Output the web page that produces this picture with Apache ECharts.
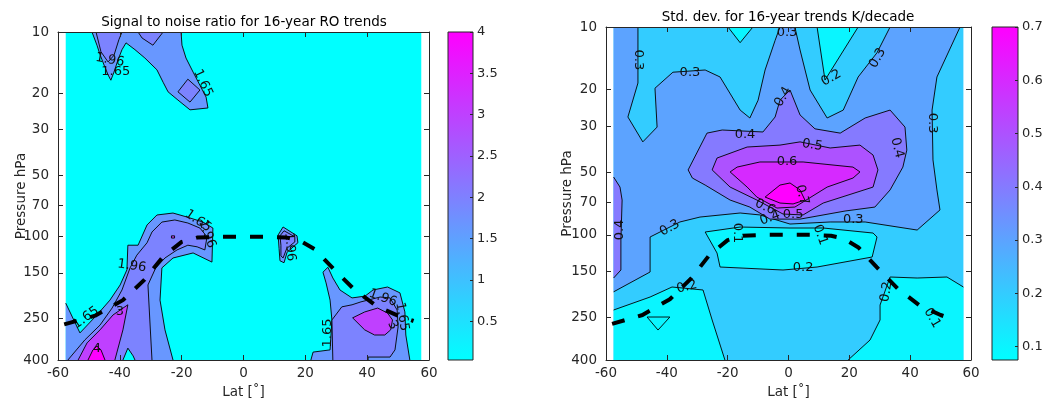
<!DOCTYPE html>
<html>
<head>
<meta charset="utf-8">
<script src="https://cdn.jsdelivr.net/npm/echarts@6/dist/echarts.min.js"></script>
<style>html,body{margin:0;background:#fff}#chart{width:1043px;height:401px}</style>
</head>
<body>
<div id="chart"></div>
<script>
// ---------- axes ----------
const P_TICKS = [10, 20, 30, 50, 70, 100, 150, 250, 400];
const LAT_TICKS = [-60, -40, -20, 0, 20, 40, 60];
const SNR_BAR_TICKS = [0.5, 1, 1.5, 2, 2.5, 3, 3.5, 4];
const SD_BAR_TICKS = [0.1, 0.2, 0.3, 0.4, 0.5, 0.6, 0.7];
const SNR_RANGE = [0.03, 4];
const SD_RANGE = [0.075, 0.7];

// data field covers the 5-degree bins centred at -57.5 ... 57.5
const FIELD = [[-57.5, 10], [57.5, 10], [57.5, 400], [-57.5, 400]];

// ---------- thermal tropopause (lat, hPa) ----------
const TROPO_LAT = [-58, -48, -39, -32, -26, -20, -15, -7, 0, 7, 14, 18, 23, 29, 36, 43, 50, 55];
const TROPO_P = [268, 243, 204, 162, 125, 106, 101, 100, 100, 100, 101, 104, 115, 143, 182, 218, 243, 258];

// ---------- signal to noise ratio: contour regions (lat, hPa) ----------
const SNR_UPPER_165 = [[-49.0,10],[-47.4,11.6],[-46.4,12.9],[-45.1,14.5],[-43.8,16.2],[-42.9,17.2],[-41.9,15.7],[-40.6,13.7],[-39.3,12.2],[-38.0,11.3],[-35.1,12.2],[-31.9,13.4],[-28.0,15.3],[-26.0,17.6],[-24.4,19.6],[-21.2,21.5],[-17.3,24.0],[-11.5,23.5],[-12.1,20.8],[-14.1,18.2],[-16.3,15.7],[-18.6,13.4],[-19.9,11.6],[-20.2,10]];
const SNR_UPPER_196_A = [[-47.7,10],[-46.1,12.5],[-43.8,14.0],[-41.9,13.0],[-40.3,10.9],[-39.3,10]];
const SNR_UPPER_196_B = [[-34.1,10],[-32.8,10.7],[-29.3,11.6],[-26.0,10]];
const SNR_UPPER_196_C = [[-21.2,19.6],[-18.0,17.0],[-14.1,19.2],[-17.3,22.0]];
const SNR_LOWER_165 = [[-57.5,211],[-52.9,295],[-47.4,241],[-43.2,204],[-39.9,172],[-37.7,145],[-37.4,110],[-34.1,110],[-31.2,87.6],[-28.0,78.3],[-22.8,76.6],[-18.3,80.1],[-13.1,84.8],[-9.9,90.7],[-10.2,133],[-16.3,120],[-22.8,127],[-26.4,142],[-27.0,204],[-25.4,285],[-22.8,400],[-57.5,400]];
const SNR_LOWER_196 = [[-56.8,400],[-51.3,319],[-46.4,270],[-42.5,223],[-39.3,182],[-36.7,142],[-34.5,123],[-31.2,107],[-29.6,94.8],[-26.4,84.8],[-22.2,82.8],[-18.0,85.7],[-14.1,90.7],[-11.8,100],[-12.5,116],[-15.0,112],[-18.0,110],[-21.5,116],[-25.4,127],[-28.4,142],[-30.9,172],[-30.3,255],[-29.6,400]];
const SNR_LOWER_3 = [[-53.5,400],[-50.6,330],[-46.4,285],[-42.2,241],[-39.9,228],[-37.4,215],[-39.0,285],[-41.6,400]];
const SNR_LOWER_4 = [[-50.3,400],[-48.7,357],[-47.4,342],[-46.1,357],[-44.8,400]];
const SNR_LOWER_GAP = [[-39.0,400],[-37.4,350],[-35.7,382],[-35.1,400]];
const SNR_DOT_3 = [[-23.3,99],[-22.3,99],[-22.3,101.5],[-23.3,101.5]];
const SNR_MID_165 = [[11.2,98],[12.8,89.6],[17.3,99],[17.6,107],[14.1,119],[13.1,134],[11.8,131],[11.5,114]];
const SNR_MID_196 = [[11.8,99],[13.1,93.5],[16.6,100],[16.6,106],[14.0,114],[12.8,127],[12.1,124],[12.1,110]];
const SNR_RIGHT_165 = [[21.8,400],[22.5,366],[28.0,357],[28.6,255],[28.0,204],[26.7,168],[25.7,149],[27.3,141],[28.9,159],[31.2,182],[35.1,199],[39.3,195],[41.9,182],[46.6,176],[50.6,188],[52.2,233],[52.5,302],[53.8,400]];
const SNR_RIGHT_196 = [[28.9,400],[28.6,255],[31.8,220],[35.1,215],[38.0,208],[40.2,204],[44.2,197],[47.4,199],[49.7,228],[50.0,276],[49.0,357],[47.4,387],[40.3,387],[40.3,400]];
const SNR_RIGHT_3 = [[35.3,249],[39.2,233],[43.4,223],[46.6,236],[48.2,255],[47.6,285],[45.7,302],[42.4,302],[39.2,285]];

// contour labels: text, lat, hPa, angle (deg, anticlockwise)
const SNR_LABELS = [
  ['1.96',-43.2,13.7,-10], ['1.65',-41.3,15.6,0], ['1.65',-13.1,17.8,-65],
  ['1.65',-14.7,83.8,-35], ['1.96',-11.8,97,-70], ['1.96',-36.1,139,-8],
  ['1.65',-51,249,35], ['3',-40,233,0], ['4',-47.4,350,0],
  ['1.96',15,112,-85], ['1.65',27.3,295,90], ['1.96',45.1,199,-20],
  ['1.65',51.3,246,-80], ['3',48.3,270,-60]
];

// ---------- standard deviation: contour regions (lat, hPa) ----------
const SD_03_BAND = [[-57.5,10],[56.4,10],[48.8,17.4],[47.2,25.1],[47.5,43.6],[48.8,60.8],[49.8,75.9],[42.3,94.8],[25.2,86.7],[13.7,86.7],[0.5,88.7],[-9.4,80.2],[-15.9,78.5],[-29.1,82.1],[-35.7,86.7],[-45.5,102.4],[-45.5,150.9],[-57.5,188]];
const SD_02_TOPLEFT = [[-49.5,10],[-49.5,18.6],[-52.8,27.1],[-47.9,35.7],[-43.2,30.3],[-43.9,19.7],[-38.0,16.5],[-27.4,16.1],[-22.5,17.4],[-15.9,25.1],[-12.7,27.4],[-10.0,22.5],[-7.7,16.1],[-4.4,11.6],[-2.8,10]];
const SD_02_TOPRIGHT = [[2.1,10],[3.8,12.9],[7.1,20.1],[12.7,27.4],[18.0,25.1],[22.9,17.4],[29.1,13.3],[33.4,10]];
const SD_01_TOPLEFT = [[-19.9,10],[-15.9,11.9],[-11.7,10]];
const SD_01_TOPRIGHT = [[9.4,10],[12.0,18.0],[22.9,10]];
const SD_01_POCKET = [[-27.4,96.9],[-15.9,91.7],[0.5,92.7],[11.4,92.7],[27.8,98],[29.1,102.4],[27.5,127.8],[9.4,142.8],[-1.8,147.6],[-22.5,142.8],[-23.5,122.3]];
const SD_01_LOWLEFT = [[-57.5,229.9],[-45.5,199.1],[-38.3,178.2],[-28.1,184.2],[-25.1,256.8],[-20.9,400],[-57.5,400]];
const SD_01_LOWRIGHT = [[19.6,400],[26.8,320.6],[30.1,256.8],[30.1,217.6],[33.4,159.5],[42.3,161.3],[52.1,159.5],[57.5,178.2],[57.5,400]];
const SD_01_TRIANGLE = [[-46.5,248.5],[-39.0,248.5],[-42.9,287]];
const SD_04_WEST = [[-57.5,52.7],[-55.4,58.9],[-54.7,68],[-55.1,105.9],[-55.1,147.6],[-57.5,161.3]];
const SD_04_CORE = [[-33,48.7],[-26.8,32.4],[-21.8,31.3],[-8.4,32],[-4.4,27.1],[-2.8,22.5],[0.5,20.1],[3.8,26.5],[8.7,30.9],[17,32.4],[25.2,27.4],[33.4,25.1],[38.3,30.3],[38.9,39.1],[37.6,47.2],[33.4,60.8],[28.4,73.5],[18.6,76.8],[3.8,84],[-6.1,84],[-12.7,73.5],[-19.2,68],[-27.4,57.6],[-31.6,53.3]];
const SD_05 = [[-25.1,48.7],[-23.5,42.7],[-13.6,37.8],[-2.8,37],[3.8,35.7],[13.7,38.2],[23.5,37],[27.8,41.3],[29.4,48.7],[27.8,58.9],[11.4,70.3],[4.8,80.2],[-1.8,79.4],[-10.4,68],[-19.2,58.9]];
const SD_06 = [[-19.2,49.8],[-16.9,47.2],[-9.4,44.6],[4.8,44.6],[21.2,47.2],[23.5,49.8],[21.2,53.3],[12.7,58.9],[2.1,73.5],[-3.8,74.3],[-10.4,65.8],[-13.6,58.9]];
const SD_07 = [[-7.7,65.8],[-2.8,57.6],[0.5,56.3],[3.8,60.8],[5.4,68],[1.5,71],[-2.8,70.3]];

const SD_LABELS = [
  ['0.3',-49.5,14.4,-90], ['0.3',-32.4,16.5,0], ['0.3',-0.5,10.7,0], ['0.2',14.1,17.6,30],
  ['0.3',29.3,14.1,60], ['0.4',-1.8,21.7,60], ['0.4',-14.3,33.1,0], ['0.5',7.8,37,-10],
  ['0.6',-0.5,44.6,0], ['0.4',35.7,38.2,-75], ['0.3',47.2,29,-90], ['0.7',4.4,64.3,-75],
  ['0.6',-7.7,73.5,-25], ['0.4',-6.1,83,20], ['0.5',1.5,80.2,0], ['0.3',21.3,84.8,0],
  ['0.3',-39,92.7,30], ['0.4',-55.4,94.8,90], ['0.2',-33.4,178,15], ['0.2',4.8,144.3,0],
  ['0.1',-16.9,98,-90], ['0.1',10.4,100,-70], ['0.2',32.2,188,80], ['0.1',47.2,251,-60]
];

// ---------- drawing ----------
const FONT = '"DejaVu Sans", sans-serif';
const INK = '#262626';
const FS = 13.5;

function cool(f) {
  f = Math.max(0, Math.min(1, f));
  return 'rgb(' + Math.round(255 * f) + ',' + Math.round(255 * (1 - f)) + ',255)';
}
function levelColor(v, range) { return cool((v - range[0]) / (range[1] - range[0])); }

// fill order: lowest level first, higher levels painted on top
const SNR_REGIONS = [
  { level: SNR_RANGE[0], pts: FIELD },
  { level: 1.65, pts: SNR_UPPER_165 },
  { level: 1.96, pts: SNR_UPPER_196_A },
  { level: 1.96, pts: SNR_UPPER_196_B },
  { level: 1.96, pts: SNR_UPPER_196_C },
  { level: 1.65, pts: SNR_LOWER_165 },
  { level: 1.96, pts: SNR_LOWER_196 },
  { level: 3, pts: SNR_LOWER_3 },
  { level: 4, pts: SNR_LOWER_4 },
  { level: SNR_RANGE[0], pts: SNR_LOWER_GAP },
  { level: 3, pts: SNR_DOT_3 },
  { level: 1.65, pts: SNR_MID_165 },
  { level: 1.96, pts: SNR_MID_196 },
  { level: 1.65, pts: SNR_RIGHT_165 },
  { level: 1.96, pts: SNR_RIGHT_196 },
  { level: 3, pts: SNR_RIGHT_3 }
];
const SD_REGIONS = [
  { level: 0.2, pts: FIELD },
  { level: 0.3, pts: SD_03_BAND },
  { level: 0.2, pts: SD_02_TOPLEFT },
  { level: 0.2, pts: SD_02_TOPRIGHT },
  { level: 0.1, pts: SD_01_TOPLEFT },
  { level: 0.1, pts: SD_01_TOPRIGHT },
  { level: 0.1, pts: SD_01_POCKET },
  { level: 0.1, pts: SD_01_LOWLEFT },
  { level: 0.1, pts: SD_01_LOWRIGHT },
  { level: 0.1, pts: SD_01_TRIANGLE },
  { level: 0.4, pts: SD_04_WEST },
  { level: 0.4, pts: SD_04_CORE },
  { level: 0.5, pts: SD_05 },
  { level: 0.6, pts: SD_06 },
  { level: 0.7, pts: SD_07 }
];

function edgesOf(p) {
  const e = [];
  if (p[0] <= -57.49) e.push('W');
  if (p[0] >= 57.49) e.push('E');
  if (p[1] <= 10.001) e.push('N');
  if (p[1] >= 399.9) e.push('S');
  return e;
}
function onSameEdge(a, b) {
  const ea = edgesOf(a), eb = edgesOf(b);
  return ea.some(function (e) { return eb.indexOf(e) >= 0; });
}

function contourSeries(regions, range, idx) {
  return {
    type: 'custom', xAxisIndex: idx, yAxisIndex: idx, clip: true, z: 1, silent: true,
    data: regions.map(function (r, i) { return [r.pts[0][0], r.pts[0][1], i]; }),
    encode: { x: 0, y: 1 },
    renderItem: function (params, api) {
      const r = regions[params.dataIndex];
      const pts = r.pts.map(function (p) { return api.coord(p); });
      const children = [{ type: 'polygon', shape: { points: pts }, style: { fill: levelColor(r.level, range), stroke: null } }];
      const n = r.pts.length;
      const runs = [];
      let run = [];
      for (let i = 0; i < n; i++) {
        const j = (i + 1) % n;
        if (onSameEdge(r.pts[i], r.pts[j])) { if (run.length) runs.push(run); run = []; continue; }
        if (!run.length) run.push(pts[i]);
        run.push(pts[j]);
      }
      if (run.length) runs.push(run);
      runs.forEach(function (rn) {
        children.push({ type: 'polyline', shape: { points: rn }, style: { stroke: '#000', lineWidth: 0.9, fill: null } });
      });
      return { type: 'group', children: children };
    }
  };
}

function labelSeries(labels, idx) {
  return {
    type: 'custom', xAxisIndex: idx, yAxisIndex: idx, clip: false, z: 3, silent: true,
    data: labels.map(function (l) { return [l[1], l[2]]; }),
    encode: { x: 0, y: 1 },
    renderItem: function (params, api) {
      const l = labels[params.dataIndex];
      const c = api.coord([l[1], l[2]]);
      return {
        type: 'text', x: c[0], y: c[1], rotation: l[3] * Math.PI / 180,
        style: { text: l[0], fill: '#111', font: '13px ' + FONT, align: 'center', verticalAlign: 'middle', textAlign: 'center', textVerticalAlign: 'middle' }
      };
    }
  };
}

function tropopauseSeries(idx) {
  return {
    type: 'line', xAxisIndex: idx, yAxisIndex: idx, z: 4, silent: true, clip: true,
    symbol: 'none', animation: false,
    data: TROPO_LAT.map(function (v, i) { return [v, TROPO_P[i]]; }),
    lineStyle: { color: '#000', width: 4, type: [13, 14], cap: 'butt' }
  };
}

function colorbarSeries(idx, range) {
  return {
    type: 'custom', xAxisIndex: idx, yAxisIndex: idx, z: 1, silent: true,
    data: [[0, range[0], 1, range[1]]],
    encode: { x: [0, 2], y: [1, 3] },
    renderItem: function (params, api) {
      const a = api.coord([0, range[1]]);
      const b = api.coord([1, range[0]]);
      return {
        type: 'rect', shape: { x: a[0], y: a[1], width: b[0] - a[0], height: b[1] - a[1] },
        style: { fill: new echarts.graphic.LinearGradient(0, 1, 0, 0, [{ offset: 0, color: cool(0) }, { offset: 1, color: cool(1) }]), stroke: INK, lineWidth: 1 }
      };
    }
  };
}

const tickLabel = { color: INK, fontSize: FS, fontFamily: FONT };

function latAxis(grid, pos, labels) {
  return {
    type: 'value', gridIndex: grid, position: pos, min: -60, max: 60, interval: 20, z: 10,
    axisLine: { show: true, onZero: false, lineStyle: { color: INK, width: 1 } },
    axisTick: { show: true, inside: true, length: 5, lineStyle: { color: INK } },
    axisLabel: Object.assign({ show: labels, margin: 6 }, tickLabel),
    splitLine: { show: false },
    name: labels ? 'Lat [\u02DA]' : '', nameLocation: 'middle', nameGap: 25, nameMoveOverlap: false,
    nameTextStyle: { color: INK, fontSize: FS, fontFamily: FONT }
  };
}
function pAxis(grid, pos, labels, gap) {
  return {
    type: 'log', gridIndex: grid, position: pos, min: 10, max: 400, inverse: true, z: 10,
    axisLine: { show: true, onZero: false, lineStyle: { color: INK, width: 1 } },
    axisTick: { show: true, inside: true, length: 5, customValues: P_TICKS, lineStyle: { color: INK } },
    axisLabel: Object.assign({ show: labels, margin: 9, customValues: P_TICKS }, tickLabel),
    splitLine: { show: false }, minorTick: { show: false },
    name: labels ? 'Pressure hPa' : '', nameLocation: 'middle', nameGap: gap, nameMoveOverlap: false,
    nameTextStyle: { color: INK, fontSize: FS, fontFamily: FONT }
  };
}
function barXAxis(grid) {
  return { type: 'value', gridIndex: grid, min: 0, max: 1, show: false };
}
function barYAxis(grid, range, ticks) {
  return {
    type: 'value', gridIndex: grid, position: 'right', min: range[0], max: range[1], z: 10,
    axisLine: { show: false, onZero: false },
    axisTick: { show: true, inside: true, length: 3, customValues: ticks, lineStyle: { color: INK } },
    axisLabel: { show: true, margin: 4, customValues: ticks, color: INK, fontSize: 13, fontFamily: FONT },
    splitLine: { show: false }
  };
}

function gridBox(left, top, width, height) {
  return { left: left, top: top, width: width, height: height, containLabel: false, outerBoundsMode: 'none' };
}

const chart = echarts.init(document.getElementById('chart'), null, { renderer: 'canvas' });
chart.setOption({
  animation: false,
  backgroundColor: '#fff',
  grid: [
    gridBox(58, 32, 371, 328),
    gridBox(606, 27, 365, 333),
    gridBox(448, 32, 25, 328),
    gridBox(992, 27, 26, 333)
  ],
  xAxis: [
    latAxis(0, 'bottom', true), latAxis(0, 'top', false),
    latAxis(1, 'bottom', true), latAxis(1, 'top', false),
    barXAxis(2), barXAxis(3)
  ],
  yAxis: [
    pAxis(0, 'left', true, 30), pAxis(0, 'right', false, 0),
    pAxis(1, 'left', true, 32), pAxis(1, 'right', false, 0),
    barYAxis(2, SNR_RANGE, SNR_BAR_TICKS), barYAxis(3, SD_RANGE, SD_BAR_TICKS)
  ],
  graphic: [
    { type: 'text', x: 244, y: 22, style: { text: 'Signal to noise ratio for 16-year RO trends', font: FS + 'px ' + FONT, fill: '#000', align: 'center', verticalAlign: 'middle', textAlign: 'center', textVerticalAlign: 'middle' } },
    { type: 'text', x: 788, y: 17, style: { text: 'Std. dev. for 16-year trends K/decade', font: FS + 'px ' + FONT, fill: '#000', align: 'center', verticalAlign: 'middle', textAlign: 'center', textVerticalAlign: 'middle' } }
  ],
  series: [
    contourSeries(SNR_REGIONS, SNR_RANGE, 0),
    labelSeries(SNR_LABELS, 0),
    tropopauseSeries(0),
    contourSeries(SD_REGIONS, SD_RANGE, 2),
    labelSeries(SD_LABELS, 2),
    tropopauseSeries(2),
    colorbarSeries(4, SNR_RANGE),
    colorbarSeries(5, SD_RANGE)
  ]
});
</script>
</body>
</html>
